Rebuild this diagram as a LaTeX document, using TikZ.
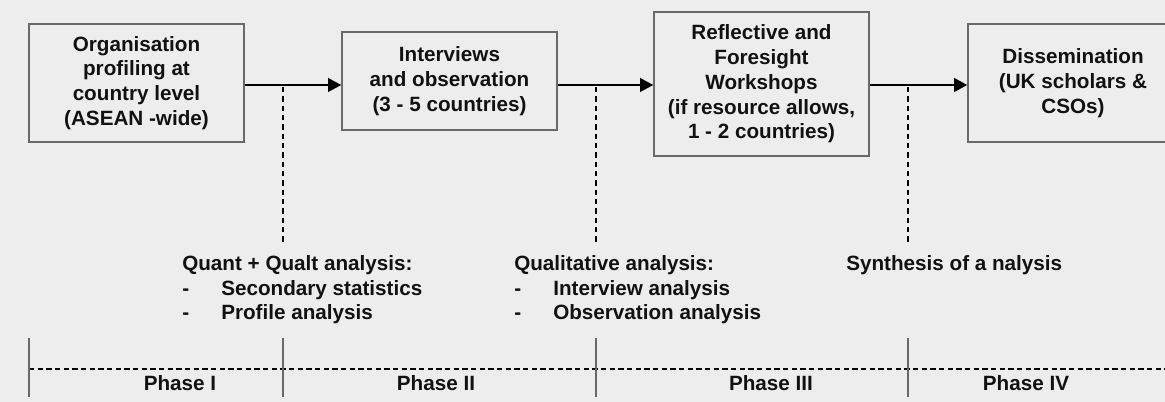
\documentclass[tikz,border=0pt]{standalone}
\usepackage{fontspec}
\setmainfont{Liberation Sans}
\usepackage{tikz}
\usetikzlibrary{positioning,arrows.meta}
\definecolor{paper}{RGB}{236,237,236}
\definecolor{edgegrey}{RGB}{105,105,105}
\definecolor{ink}{RGB}{17,17,17}

\begin{document}
\begin{tikzpicture}[x=0.75pt,y=-0.75pt,
	    stage/.style={draw=edgegrey, line width=0.9pt, fill=paper, align=center, inner sep=0pt},
	    flow/.style={line width=2.2pt, -{Triangle[length=10pt,width=10pt]}},
	    link/.style={line width=1.4pt, dash pattern=on 4pt off 3pt},
	    phaseline/.style={line width=1.1pt, dash pattern=on 4pt off 2.5pt},
	    tick/.style={draw=edgegrey, line width=0.8pt},
	    every node/.style={font=\bfseries\fontsize{15.5}{18.6}\selectfont, text=ink}]
	    \fill[paper] (0,0) rectangle (1165,402);
	    \useasboundingbox (0,0) rectangle (1165,402);
	    % stages
	    \node[stage, minimum width=161.25pt, minimum height=88.5pt] (org) at (136.5,83) {Organisation\\profiling at\\country level\\(ASEAN -wide)};
	    \node[stage, minimum width=161.25pt, minimum height=73.5pt] (int) at (449.5,81) {Interviews\\and observation\\(3 - 5 countries)};
	    \node[stage, minimum width=161.25pt, minimum height=108pt] (ws) at (761.5,84) {Reflective and\\Foresight\\Workshops\\(if resource allows,\\1 - 2 countries)};
	    \node[stage, minimum width=157.5pt, minimum height=88.5pt] (dis) at (1073,83) {Dissemination\\(UK scholars \&\\CSOs)};
	    \coordinate (spine) at (0,85);
	    \draw[flow] (org.east |- spine) -- (int.west |- spine);
	    \draw[flow] (int.east |- spine) -- (ws.west |- spine);
	    \draw[flow] (ws.east |- spine) -- (dis.west |- spine);
	    % analysis links
	    \coordinate (q1) at (283,87);
	    \coordinate (q1b) at (283,243);
	    \coordinate (q2) at (596,87);
	    \coordinate (q2b) at (596,243);
	    \coordinate (q3) at (908,87);
	    \coordinate (q3b) at (908,243);
	    \draw[link] (q1) -- (q1b);
	    \draw[link] (q2) -- (q2b);
	    \draw[link] (q3) -- (q3b);
	    \begin{scope}[every node/.append style={align=left, inner sep=0pt, anchor=north west}]
		    \node (quant) at (182,255) {Quant + Qualt analysis:\\\makebox[29.25pt][l]{-}Secondary statistics\\\makebox[29.25pt][l]{-}Profile analysis};
		    \node (qual) at (514,255) {Qualitative analysis:\\\makebox[29.25pt][l]{-}Interview analysis\\\makebox[29.25pt][l]{-}Observation analysis};
		    \node (syn) at (846,255) {Synthesis of a nalysis};
	    \end{scope}
	    % phases
	    \coordinate (hl) at (29,369);
	    \coordinate (hr) at (1165,369);
	    \draw[phaseline] (hl) -- (hr);
	    \coordinate (p0t) at (29,338);
	    \coordinate (p0b) at (29,397);
	    \coordinate (p1t) at (283,338);
	    \coordinate (p1b) at (283,397);
	    \coordinate (p2t) at (596,338);
	    \coordinate (p2b) at (596,397);
	    \coordinate (p3t) at (908,338);
	    \coordinate (p3b) at (908,397);
	    \draw[tick] (p0t) -- (p0b);
	    \draw[tick] (p1t) -- (p1b);
	    \draw[tick] (p2t) -- (p2b);
	    \draw[tick] (p3t) -- (p3b);
	    \node (ph1) at (180,383) {Phase I};
	    \node (ph2) at (436,383) {Phase II};
	    \node (ph3) at (771,383) {Phase III};
	    \node (ph4) at (1026,383) {Phase IV};
	\end{tikzpicture}
\end{document}
